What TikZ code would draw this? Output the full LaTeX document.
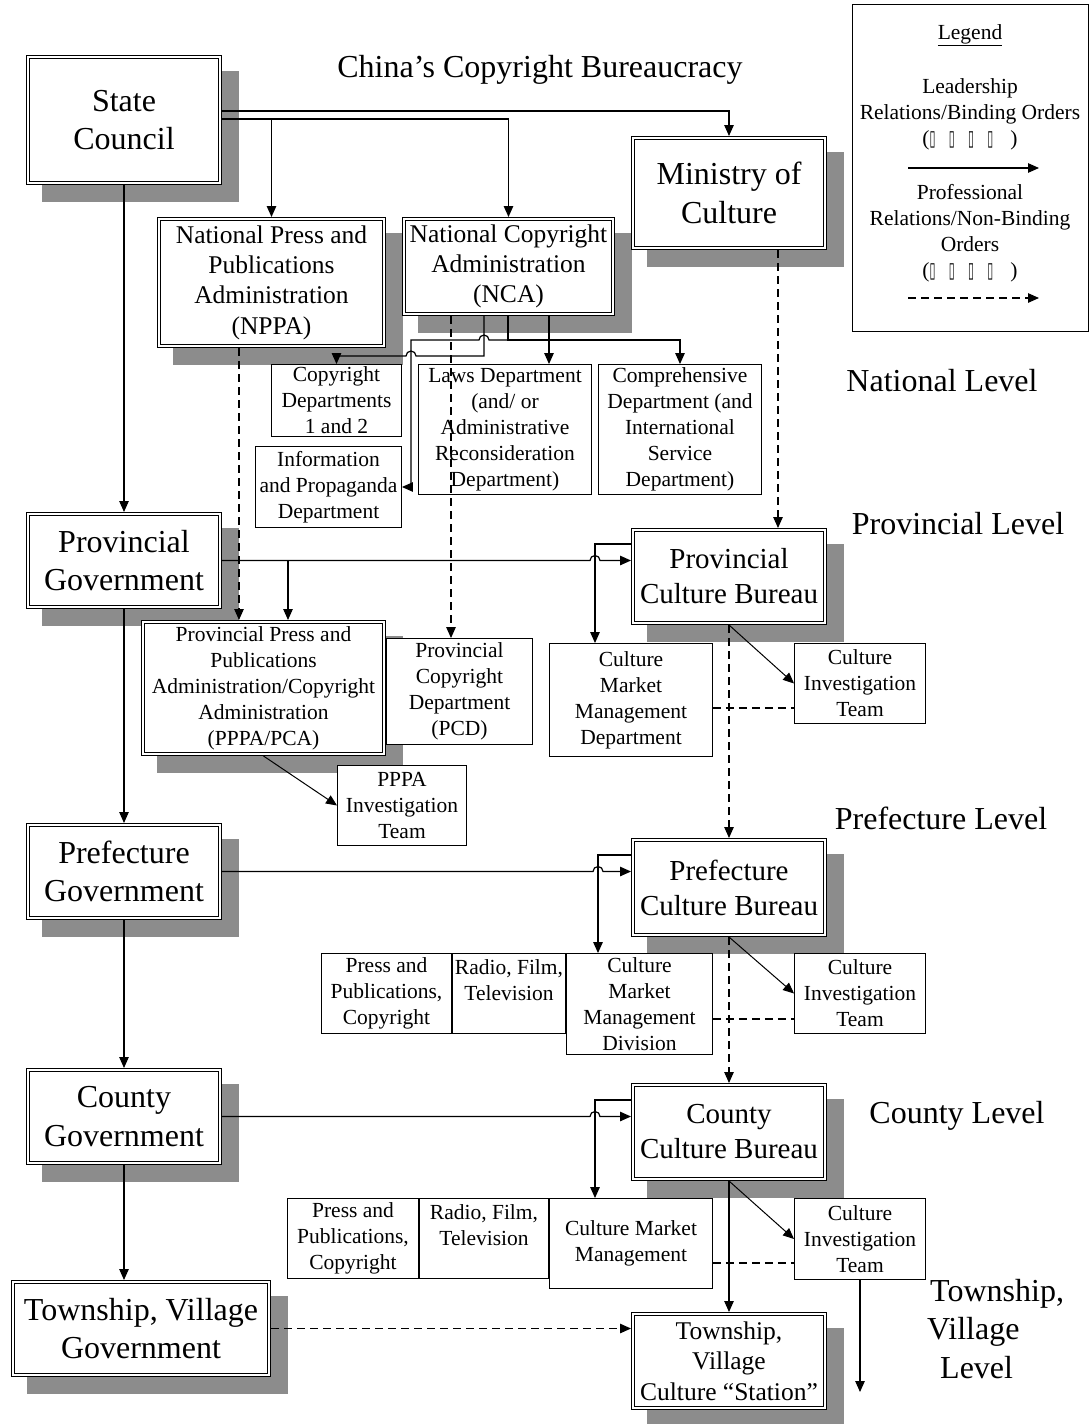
\documentclass[tikz,border=0pt]{standalone}
\usepackage{fontspec}
\setmainfont{Liberation Serif}
\newfontfamily\symfont{DejaVu Sans}
\usepackage{graphicx}
\usetikzlibrary{arrows.meta,backgrounds,calc}
\newcommand\fbig{\fontsize{32}{38.5}\selectfont}
\newcommand\fcb{\fontsize{29}{35}\selectfont}
\newcommand\fmed{\fontsize{25.5}{30.3}\selectfont}
\newcommand\fsmall{\fontsize{21.5}{26}\selectfont}
\newcommand\tofu{{\symfont\scalebox{0.5}[1]{▯}}}
\newcommand\tofurow{(\tofu\hspace{0.62em}\tofu\hspace{0.62em}\tofu\hspace{0.62em}\tofu\hspace{0.8em})}
\tikzset{
  dbox/.style={draw, double, double distance=2.2pt, line width=0.9pt, fill=white,
    align=center, inner sep=0pt, outer sep=2pt},
  sbox/.style={draw, line width=0.9pt, fill=white, align=center, inner sep=0pt,
    outer sep=0.45pt, font=\fsmall},
  arr/.style={line width=1.2pt, -{Triangle[length=11pt,width=9.5pt]}},
  darr/.style={arr, dash pattern=on 8pt off 5pt},
  dsh/.style={line width=1.2pt, dash pattern=on 8pt off 5pt},
  shade/.style={fill=black!45},
  lbl/.style={font=\fbig, align=center, inner sep=0pt}
}
\begin{document}
\begin{tikzpicture}[x=1pt,y=-1pt]
\useasboundingbox (0,0) rectangle (1092,1424);

% title and level labels
\node[lbl] (title) at (540,70) {China’s Copyright Bureaucracy};
\node[lbl] (lvnat) at (942,381) {National Level};
\node[lbl] (lvprov) at (958,524) {Provincial Level};
\node[lbl] (lvpref) at (941,818) {Prefecture Level};
\node[lbl] (lvcty) at (957,1116) {County Level};
\node[lbl, align=left, anchor=west] (lvtwn) at (927,1329) {\hspace*{3pt}Township,\\Village\\\hspace*{13pt}Level};

% legend
\node[draw, line width=0.9pt, minimum width=236pt, minimum height=327pt, inner sep=0pt] (legend) at (970.5,168) {};
\node[font=\fsmall, inner sep=0pt] (legt) at (970,35) {\underline{Legend}};
\node[font=\fsmall, align=center, inner sep=0pt] (leg1) at (970,114) {Leadership\\Relations/Binding Orders\\\tofurow};
\node[font=\fsmall, align=center, inner sep=0pt] (leg2) at (970,233) {Professional\\Relations/Non-Binding\\Orders\\\tofurow};
\coordinate (la1) at (908,168);
\coordinate (la2) at (1039,168);
\coordinate (lb1) at (908,298);
\coordinate (lb2) at (1039,298);
\draw[arr] (la1) -- (la2);
\draw[darr] (lb1) -- (lb2);

% national
\node[dbox, font=\fbig, minimum width=192pt, minimum height=126pt] (sc) at (124,120) {State\\Council};
\node[dbox, font=\fbig, minimum width=192pt, minimum height=110pt] (moc) at (729,193) {Ministry of\\Culture};
\node[dbox, font=\fmed, minimum width=225pt, minimum height=127pt] (nppa) at (271.5,282.5) {National Press and\\Publications\\Administration\\(NPPA)};
\node[dbox, font=\fmed, minimum width=209pt, minimum height=95pt] (nca) at (508.5,266.5) {National Copyright\\Administration\\(NCA)};
\node[sbox, minimum width=130pt, minimum height=72pt] (cd12) at (336.5,400.5) {Copyright\\Departments\\1 and 2};
\node[sbox, minimum width=146pt, minimum height=81pt] (ipd) at (328.5,487) {Information\\and Propaganda\\Department};
\node[sbox, minimum width=173pt, minimum height=130pt] (laws) at (505,429.5) {Laws Department\\(and/ or\\Administrative\\Reconsideration\\Department)};
\node[sbox, minimum width=163pt, minimum height=130pt] (comp) at (680,429.5) {Comprehensive\\Department (and\\International\\Service\\Department)};

% provincial
\node[dbox, font=\fbig, minimum width=192pt, minimum height=93pt] (pg) at (124,560.5) {Provincial\\Government};
\node[dbox, font=\fcb, minimum width=192pt, minimum height=93pt] (pcb) at (729,576.5) {Provincial\\Culture Bureau};
\node[dbox, font=\fsmall, minimum width=241pt, minimum height=132pt] (pppa) at (263.5,688) {Provincial Press and\\Publications\\Administration/Copyright\\Administration\\(PPPA/PCA)};
\node[sbox, minimum width=146pt, minimum height=106pt] (pcd) at (459.5,691.5) {Provincial\\Copyright\\Department\\(PCD)};
\node[sbox, minimum width=129pt, minimum height=80pt] (pit) at (402,805.5) {PPPA\\Investigation\\Team};
\node[sbox, minimum width=163pt, minimum height=113pt] (cmmd) at (631,700) {Culture\\Market\\Management\\Department};
\node[sbox, minimum width=131pt, minimum height=80pt] (cit1) at (860,683.5) {Culture\\Investigation\\Team};

% prefecture
\node[dbox, font=\fbig, minimum width=192pt, minimum height=93pt] (pfg) at (124,871.5) {Prefecture\\Government};
\node[dbox, font=\fcb, minimum width=192pt, minimum height=95pt] (pfcb) at (729,887.5) {Prefecture\\Culture Bureau};
\node[sbox, minimum width=130pt, minimum height=80pt] (ppc2) at (386.5,993.5) {Press and\\Publications,\\Copyright};
\node[sbox, minimum width=113pt, minimum height=80pt] (rft2) at (509,993.5) {Radio, Film,\\Television\\\mbox{}};
\node[sbox, minimum width=146pt, minimum height=101pt] (cmmdiv) at (639.5,1004) {Culture\\Market\\Management\\Division};
\node[sbox, minimum width=131pt, minimum height=80pt] (cit2) at (860,993.5) {Culture\\Investigation\\Team};

% county
\node[dbox, font=\fbig, minimum width=192pt, minimum height=93pt] (cg) at (124,1116.5) {County\\Government};
\node[dbox, font=\fcb, minimum width=192pt, minimum height=94pt] (ccb) at (729,1132) {County\\Culture Bureau};
\node[sbox, minimum width=131pt, minimum height=80pt] (ppc3) at (353,1238.5) {Press and\\Publications,\\Copyright};
\node[sbox, minimum width=129pt, minimum height=80pt] (rft3) at (484,1238.5) {Radio, Film,\\Television\\\mbox{}};
\node[sbox, minimum width=163pt, minimum height=90pt] (cmm3) at (631,1243.5) {Culture Market\\Management};
\node[sbox, minimum width=131pt, minimum height=81pt] (cit3) at (860,1239) {Culture\\Investigation\\Team};

% township
\node[dbox, font=\fbig, minimum width=256pt, minimum height=93pt] (tg) at (141,1328.5) {Township, Village\\Government};
\node[dbox, font=\fmed, minimum width=192pt, minimum height=94pt] (ts) at (729,1361) {Township,\\Village\\Culture “Station”};

% shadows
\begin{scope}[on background layer]
\foreach \n in {sc,moc,nppa,nca,pg,pcb,pppa,pfg,pfcb,cg,ccb,tg,ts}
  \fill[shade] ([shift={(16,16)}]\n.north west) rectangle ([shift={(17,17)}]\n.south east);
\end{scope}

% guide coordinates
\coordinate (g239) at (239,0);
\coordinate (g288) at (288,0);
\coordinate (g451) at (451,0);
\coordinate (g484) at (484,0);
\coordinate (g508) at (508,0);
\coordinate (g549) at (549,0);
\coordinate (g778) at (778,0);
\coordinate (g590) at (590,0);
\coordinate (g593) at (593,0);
\coordinate (g595) at (595,0);
\coordinate (g598) at (598,0);

% government chain
\draw[arr] (sc.south) -- (pg.north);
\draw[arr] (pg.south) -- (pfg.north);
\draw[arr] (pfg.south) -- (cg.north);
\draw[arr] (cg.south) -- (cg.south |- tg.north);

% state council
\draw[arr] ([yshift=9pt]sc.east) -| (moc.north);
\draw[arr] ([yshift=1pt]sc.east) -| (nppa.north);
\draw[arr] ([yshift=1pt]sc.east) -| (nca.north);

% national
\draw[darr] (nppa.south -| g239) -- (pppa.north -| g239);
\draw[darr] (nca.south -| g451) -- (pcd.north -| g451);
\draw[darr] (moc.south -| g778) -- (pcb.north -| g778);
\draw[arr] (nca.south -| g549) -- (laws.north -| g549);
\draw[arr] (nca.south -| g484) |- (416,356) arc(0:180:5pt) -| (cd12.north);
\draw[arr] (nca.south -| g508) |- (489,340) arc(0:180:5pt) -- (411,340) |- (ipd.east);
\draw[arr] (nca.south -| g508) -- (508,340) -| (comp.north);

% provincial
\draw[arr] (pg.east) -- (pg.east -| g590) arc(180:0:5pt) -- (pg.east -| pcb.west);
\draw[arr] (pg.east -| g288) -- (pppa.north -| g288);
\draw[arr] ([yshift=32.5pt]pcb.west) -| (cmmd.north -| g595);
\draw[arr, line width=1pt] (pcb.south) -- (cit1.west);
\draw[darr] (pcb.south) -- (pfcb.north);
\coordinate (d1) at ([yshift=-8pt]cmmd.east);
\draw[dsh] (d1) -- (d1 -| cit1.west);
\draw[arr, line width=1pt] (pppa.south) -- (pit.west);

% prefecture
\draw[arr] (pfg.east) -- (pfg.east -| g593) arc(180:0:5pt) -- (pfg.east -| pfcb.west);
\draw[arr] ([yshift=32.5pt]pfcb.west) -| (cmmdiv.north -| g598);
\draw[arr, line width=1pt] (pfcb.south) -- (cit2.west);
\draw[darr] (pfcb.south) -- (ccb.north);
\coordinate (d2) at ([yshift=-15pt]cmmdiv.east);
\draw[dsh] (d2) -- (d2 -| cit2.west);

% county
\draw[arr] (cg.east) -- (cg.east -| g590) arc(180:0:5pt) -- (cg.east -| ccb.west);
\draw[arr] ([yshift=32pt]ccb.west) -| (cmm3.north -| g595);
\draw[arr, line width=1pt] (ccb.south) -- (cit3.west);
\draw[arr] (ccb.south) -- (ts.north);
\coordinate (d3) at ([yshift=-19.5pt]cmm3.east);
\draw[dsh] (d3) -- (d3 -| cit3.west);
\coordinate (cit3end) at (860,1392);
\draw[arr] (cit3.south) -- (cit3end);

% township
\draw[darr] (tg.east) -- (tg.east -| ts.west);
\end{tikzpicture}
\end{document}
